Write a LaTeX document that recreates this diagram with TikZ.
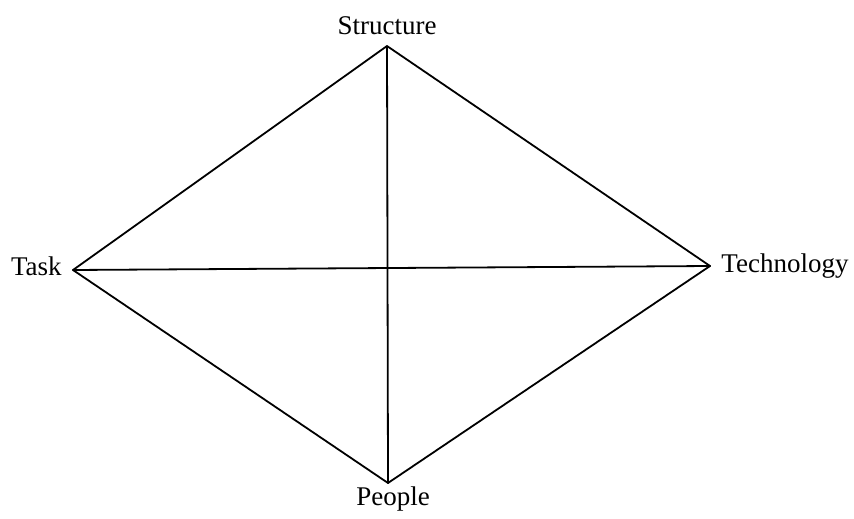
\documentclass[tikz,border=0pt]{standalone}
\usepackage{fontspec}
\setmainfont{Liberation Serif}
\begin{document}
\begin{tikzpicture}[x=0.5pt,y=-0.5pt,
  edge/.style={line width=0.9pt,line cap=round,line join=round},
  lbl/.style={inner sep=0pt,font=\fontsize{13.5pt}{16pt}\selectfont}]
\useasboundingbox (0,0) rectangle (854,518);
\coordinate (S) at (387,46);
\coordinate (T) at (73,270);
\coordinate (E) at (710,266);
\coordinate (P) at (388,483);
\node[lbl,anchor=base] (ls) at (387,35) {Structure};
\node[lbl,anchor=base east] (lt) at (62,275) {Task};
\node[lbl,anchor=base west] (le) at (721,272) {Technology};
\node[lbl,anchor=base] (lp) at (393,505) {People};
\draw[edge] (S) -- (E) -- (P) -- (T) -- cycle;
\draw[edge] (S) -- (P);
\draw[edge] (T) -- (E);
\end{tikzpicture}
\end{document}
